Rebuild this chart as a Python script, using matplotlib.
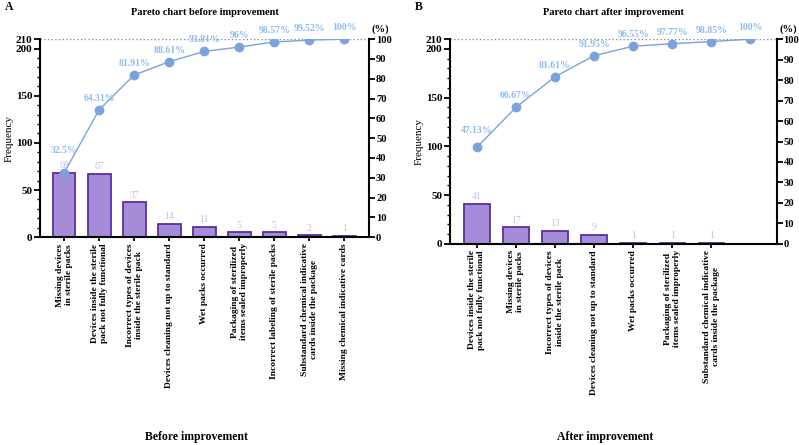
import matplotlib.pyplot as plt
from matplotlib.ticker import MultipleLocator

plt.rcParams['font.family'] = ['Liberation Serif', 'DejaVu Serif']
plt.rcParams['font.weight'] = 'bold'

# data before improvement
cats_before = ['Missing devices\nin sterile packs',
               'Devices inside the sterile\npack not fully functional',
               'Incorrect types of devices\ninside the sterile pack',
               'Devices cleaning not up to standard',
               'Wet packs occurred',
               'Packaging of sterilized\nitems sealed improperly',
               'Incorrect labeling of sterile packs',
               'Substandard chemical indicative\ncards inside the package',
               'Missing chemical indicative cards']
freq_before = [68, 67, 37, 14, 11, 5, 5, 2, 1]
cum_before = [32.5, 64.31, 81.91, 88.61, 93.81, 96, 98.57, 99.52, 100]
cum_before_lbl = ['32.5%', '64.31%', '81.91%', '88.61%', '93.81%', '96%',
                  '98.57%', '99.52%', '100%']

# data after improvement
cats_after = ['Devices inside the sterile\npack not fully functional',
              'Missing devices\nin sterile packs',
              'Incorrect types of devices\ninside the sterile pack',
              'Devices cleaning not up to standard',
              'Wet packs occurred',
              'Packaging of sterilized\nitems sealed improperly',
              'Substandard chemical indicative\ncards inside the package']
freq_after = [41, 17, 13, 9, 1, 1, 1]
cum_after = [47.13, 66.67, 81.61, 91.95, 96.55, 97.77, 98.85, 100]
cum_after_lbl = ['47.13%', '66.67%', '81.61%', '91.95%', '96.55%', '97.77%',
                 '98.85%', '100%']

bar_face = '#a68bd8'
bar_edge = '#5a2e9c'
line_col = '#7ba2dc'
pct_col = '#8dbbef'
cnt_col = '#c9bcec'

fig = plt.figure(figsize=(7.99, 4.45), dpi=100)


def pareto(rect, cats, freq, cum, cum_lbl, title, letter, bottom_txt, xmax, first_off):
    ax = fig.add_axes(rect)
    x = list(range(len(freq)))
    ax.bar(x, freq, width=0.65, color=bar_face, edgecolor=bar_edge, linewidth=1.3, zorder=2)
    for xi, f in zip(x, freq):
        ax.annotate(str(f), (xi, f), xytext=(0, 2), textcoords='offset points',
                    ha='center', va='bottom', fontsize=7, color=cnt_col, fontweight='normal')
    ax.set_xlim(-0.69, xmax)
    ax.set_ylim(0, 210)
    ax.set_yticks([0, 50, 100, 150, 200, 210])
    ax.yaxis.set_minor_locator(MultipleLocator(10))
    ax.set_xticks(x)
    ax.set_xticklabels(cats, rotation=90, multialignment='center', fontsize=6.8)
    ax.tick_params(axis='y', labelsize=8, width=1.3, length=4, pad=1.5)
    ax.tick_params(axis='y', which='minor', width=1, length=2)
    ax.tick_params(axis='x', width=1.3, length=3, pad=1.5)
    ax.spines['top'].set_visible(False)
    ax.spines['right'].set_visible(False)
    for s in ['left', 'bottom']:
        ax.spines[s].set_linewidth(1.5)
    ax.axhline(210, color='#888888', linestyle=':', linewidth=1, zorder=1)
    ax.set_ylabel('Frequency', fontsize=8)
    ax.yaxis.set_label_coords(-0.08, 0.5)

    ax2 = ax.twinx()
    xc = list(range(len(cum)))
    ax2.plot(xc, cum, color=line_col, linewidth=1, marker='o', markersize=6, zorder=3)
    for i, (xi, c, lb) in enumerate(zip(xc, cum, cum_lbl)):
        off = first_off if i == 0 else 5
        ax2.annotate(lb, (xi, c), xytext=(0, off), textcoords='offset points',
                     ha='center', va='bottom', fontsize=7, color=pct_col)
    ax2.set_ylim(0, 100)
    ax2.set_yticks(range(0, 101, 10))
    ax2.tick_params(axis='y', labelsize=7.6, width=1.3, length=4, pad=1)
    ax2.spines['top'].set_visible(False)
    ax2.spines['left'].set_visible(False)
    ax2.spines['right'].set_linewidth(1.5)
    ax2.spines['bottom'].set_visible(False)
    ax2.annotate('(%)', xy=(1, 1), xycoords='axes fraction', xytext=(2, 4),
                 textcoords='offset points', ha='left', va='bottom', fontsize=7.6)

    cx = rect[0] + rect[2] / 2
    fig.text(cx, 0.972, title, ha='center', va='center', fontsize=7.5)
    fig.text(rect[0] - 0.044, 0.985, letter, ha='left', va='center', fontsize=8.5)
    fig.text(cx - 0.01, 0.017, bottom_txt, ha='center', va='center', fontsize=8.5)
    return ax


pareto([0.050, 0.467, 0.412, 0.445], cats_before, freq_before, cum_before,
       cum_before_lbl, 'Pareto chart before improvement', 'A', 'Before improvement',
       8.71, 13)
pareto([0.563, 0.452, 0.409, 0.460], cats_after, freq_after, cum_after,
       cum_after_lbl, 'Pareto chart after improvement', 'B', 'After improvement',
       7.67, 9)

fig.savefig('out.png', dpi=100)
